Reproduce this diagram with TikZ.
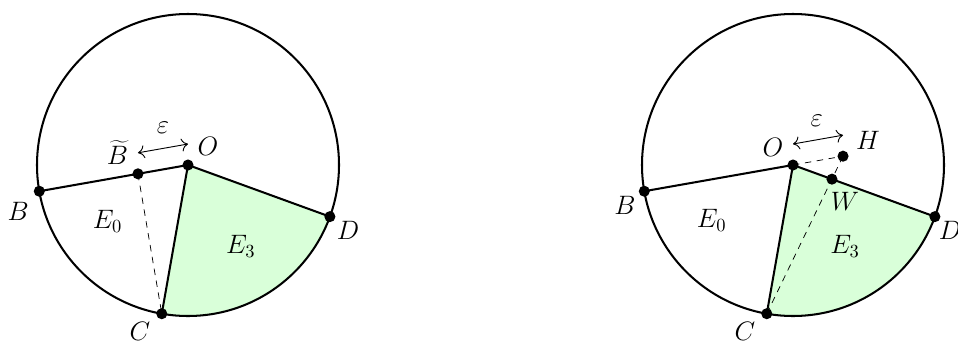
\documentclass[tikz,border=0pt]{standalone}
\usetikzlibrary{calc,arrows.meta}
\begin{document}
\begin{tikzpicture}[x=0.019cm,y=0.019cm,
  every node/.style={font=\Large},
  bord/.style={line width=1.1pt},
  aux/.style={dashed,thin,dash pattern=on 3.5pt off 3pt},
  epsarrow/.style={line width=0.5pt,{To[length=3.5pt,width=7pt]}-{To[length=3.5pt,width=7pt]}},
  regionfill/.style={fill=green!15},
  dotmark/.style={fill=black}]
\useasboundingbox (0,0) rectangle (958,341);

% ---------- left figure ----------
\coordinate (O1) at (188,176);
\coordinate (B1) at ($(O1)+(190:151)$);
\coordinate (C1) at ($(O1)+(260:151)$);
\coordinate (D1) at ($(O1)+(340:151)$);
\coordinate (Bt1) at ($(O1)+(190:50.8)$);
\coordinate (ea1) at ($(Bt1)+(0,21)$);
\coordinate (eb1) at ($(O1)+(0,21)$);

\fill[regionfill] (O1) -- (C1) arc[start angle=260,end angle=340,radius=151] -- cycle;
\draw[aux] (Bt1) -- (C1);
\draw[bord] (O1) circle[radius=151];
\draw[bord] (B1) -- (O1) -- (D1);
\draw[bord] (O1) -- (C1);
\draw[epsarrow] (ea1) -- (eb1);
\foreach \p in {O1,B1,C1,D1,Bt1} \fill[dotmark] (\p) circle[radius=3pt];

\node (lB1) at ($(O1)+(-169.7,-46.7)$) {$B$};
\node (lBt1) at ($(O1)+(-70.5,12.5)$) {$\widetilde{B}$};
\node (lO1) at ($(O1)+(20,18.3)$) {$O$};
\node (lD1) at ($(O1)+(160,-65)$) {$D$};
\node (lC1) at ($(O1)+(-48,-166.5)$) {$C$};
\node (lE01) at ($(O1)+(-80.5,-56.5)$) {$E_0$};
\node (lE31) at ($(O1)+(52.8,-81)$) {$E_3$};
\node (le1) at ($(O1)+(-25,37)$) {$\varepsilon$};

% ---------- right figure ----------
\coordinate (O2) at (793,176);
\coordinate (B2) at ($(O2)+(190:151)$);
\coordinate (C2) at ($(O2)+(260:151)$);
\coordinate (D2) at ($(O2)+(340:151)$);
\coordinate (H2) at ($(O2)+(10:50.8)$);
\coordinate (W2) at (intersection of C2--H2 and O2--D2);
\coordinate (ea2) at ($(O2)+(0,21)$);
\coordinate (eb2) at ($(H2)+(0,21)$);

\fill[regionfill] (O2) -- (C2) arc[start angle=260,end angle=340,radius=151] -- cycle;
\draw[aux] (C2) -- (H2);
\draw[aux] (O2) -- (H2);
\draw[bord] (O2) circle[radius=151];
\draw[bord] (B2) -- (O2) -- (D2);
\draw[bord] (O2) -- (C2);
\draw[epsarrow] (ea2) -- (eb2);
\foreach \p in {O2,B2,C2,D2,H2,W2} \fill[dotmark] (\p) circle[radius=3pt];

\node (lB2) at ($(O2)+(-168,-40)$) {$B$};
\node (lO2) at ($(O2)+(-20,18)$) {$O$};
\node (lH2) at ($(O2)+(75,25)$) {$H$};
\node (lW2) at ($(O2)+(52,-36.7)$) {$W$};
\node (lD2) at ($(O2)+(157,-65)$) {$D$};
\node (lC2) at ($(O2)+(-48,-166.5)$) {$C$};
\node (lE02) at ($(O2)+(-81.3,-55)$) {$E_0$};
\node (lE32) at ($(O2)+(52,-81.7)$) {$E_3$};
\node (le2) at ($(O2)+(23.7,44.3)$) {$\varepsilon$};
\end{tikzpicture}
\end{document}
